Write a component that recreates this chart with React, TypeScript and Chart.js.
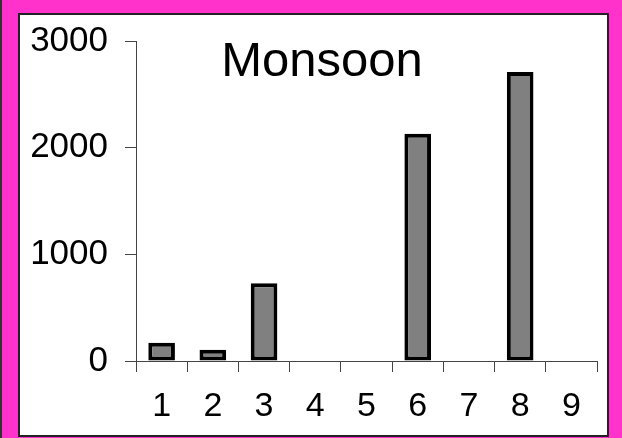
import { useEffect, useRef } from "react";
import { Chart, registerables } from "chart.js";

Chart.register(...registerables);

// Seasonal rainfall per station
const categories = ["1", "2", "3", "4", "5", "6", "7", "8", "9"];
const monsoonValues = [170, 105, 730, 0, 0, 2130, 0, 2710, 0];
const yTickValues = [0, 1000, 2000, 3000];
const chartTitle = "Monsoon";

const FONT = "'Liberation Sans', Arial, sans-serif";
const AXIS_COLOR = "#444";

export default function App() {
  const canvasRef = useRef<HTMLCanvasElement | null>(null);

  useEffect(() => {
    document.body.style.margin = "0";
    const canvas = canvasRef.current;
    if (!canvas) return;
    const chart = new Chart(canvas, {
      type: "bar",
      data: {
        labels: categories,
        datasets: [
          {
            data: monsoonValues,
            backgroundColor: "#808080",
            borderColor: "#000000",
            borderWidth: 4,
            borderSkipped: false,
            categoryPercentage: 1,
            barPercentage: 0.52,
          },
        ],
      },
      options: {
        animation: false,
        responsive: false,
        maintainAspectRatio: false,
        layout: { padding: { left: 20, top: 41, right: 25, bottom: 0 } },
        plugins: {
          legend: { display: false },
          tooltip: { enabled: false },
          title: { display: false },
        },
        scales: {
          x: {
            offset: true,
            grid: {
              offset: true,
              drawOnChartArea: false,
              drawTicks: true,
              tickLength: 11,
              color: AXIS_COLOR,
              lineWidth: 1,
            },
            border: { display: true, color: AXIS_COLOR, width: 1 },
            ticks: {
              color: "#000",
              font: { family: FONT, size: 34 },
              padding: 14,
              maxRotation: 0,
              autoSkip: false,
            },
            afterFit: (scale: any) => {
              scale.height = 77;
            },
          },
          y: {
            min: 0,
            max: 3000,
            grid: {
              drawOnChartArea: false,
              drawTicks: true,
              tickLength: 11,
              color: AXIS_COLOR,
              lineWidth: 1,
            },
            border: { display: true, color: AXIS_COLOR, width: 1 },
            afterBuildTicks: (scale: any) => {
              scale.ticks = yTickValues.map((v) => ({ value: v }));
            },
            ticks: {
              color: "#000",
              font: { family: FONT, size: 35 },
              padding: 17,
              callback: (value: any) => String(value),
            },
            afterFit: (scale: any) => {
              scale.width = 116;
            },
          },
        },
      },
    });
    return () => chart.destroy();
  }, []);

  return (
    <div
      style={{
        position: "absolute",
        left: 0,
        top: 0,
        width: 622,
        height: 438,
        background: "#FF33CC",
        overflow: "hidden",
      }}
    >
      <div
        style={{
          position: "absolute",
          left: 0,
          top: 0,
          width: 2,
          height: 438,
          background: "#333",
        }}
      />
      <div
        style={{
          position: "absolute",
          left: 18,
          top: 13,
          width: 591,
          height: 424,
          boxSizing: "border-box",
          background: "#fff",
          border: "2px solid #222",
        }}
      />
      <canvas
        ref={canvasRef}
        width={622}
        height={438}
        style={{ position: "absolute", left: 0, top: 0, width: 622, height: 438 }}
      />
      <div
        style={{
          position: "absolute",
          left: 122,
          width: 400,
          top: 35,
          textAlign: "center",
          fontFamily: FONT,
          fontSize: 49,
          lineHeight: 1,
          color: "#000",
        }}
      >
        {chartTitle}
      </div>
    </div>
  );
}
